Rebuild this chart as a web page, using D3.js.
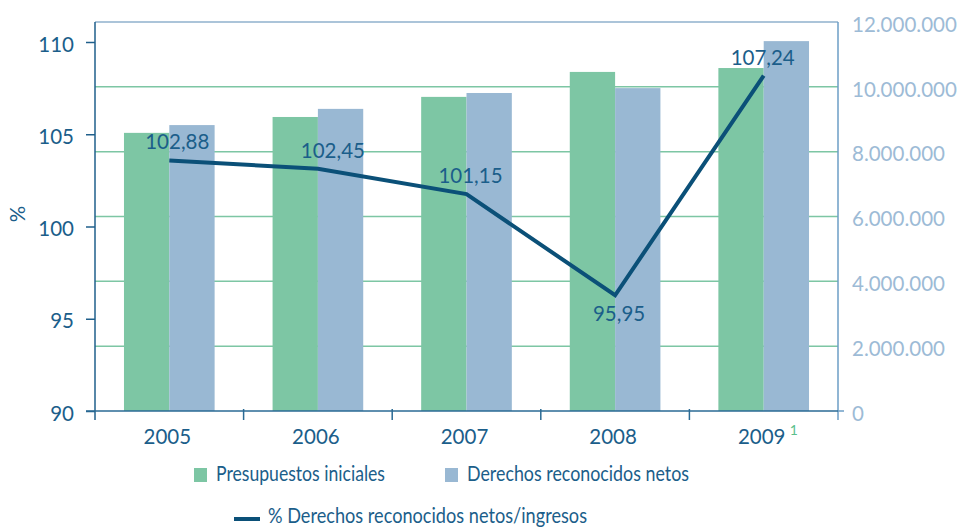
<!DOCTYPE html>
<html>
<head>
<meta charset="utf-8">
<script src="https://cdn.jsdelivr.net/npm/d3@7"></script>
<style>
  html, body { margin: 0; padding: 0; background: #fff; }
  svg { display: block; font-family: Lato, "Open Sans", sans-serif; }
</style>
</head>
<body>
<svg id="chart" width="960" height="527"></svg>
<script>
// ---- data ----
const years = ["2005", "2006", "2007", "2008", "2009"];
const presupuestos = [8580000, 9070000, 9690000, 10460000, 10580000];
const derechos = [8820000, 9320000, 9810000, 9960000, 11410000];
const porcentaje = [102.88, 102.45, 101.15, 95.95, 107.24];
const porcentajeLabels = ["102,88", "102,45", "101,15", "95,95", "107,24"];
const leftTicks = [90, 95, 100, 105, 110];
const rightTicks = [0, 2000000, 4000000, 6000000, 8000000, 10000000, 12000000];
const seriesNames = ["Presupuestos iniciales", "Derechos reconocidos netos"];
const lineName = "% Derechos reconocidos netos/ingresos";

// ---- style ----
const cGreen = "#7dc6a4", cBlue = "#99b8d3", cLine = "#0b5078";
const cText = "#1b5e8a", cRight = "#9dbbd6", cAxis = "#1f5f8b", cRightAxis = "#6c9ec6";
const fs = 20.5;
const ff = "Lato";

const svg = d3.select("#chart");
const L = 95, R = 838, B = 411, T = 22;

const x = d3.scaleBand().domain(years).range([L, R]).paddingInner(0.39).paddingOuter(0.195);
const xs = d3.scaleBand().domain(seriesNames).range([0, x.bandwidth()]);
const yR = d3.scaleLinear().domain([0, 12000000]).range([B, T]);
const yAxisL = d3.scaleLinear().domain([90, 110]).range([B, 42]);
const yLine = d3.scaleLinear().domain([90, 110]).range([B, T]);

// gridlines
svg.append("g").selectAll("line")
  .data(rightTicks.filter(d => d > 0 && d < 12000000))
  .join("line")
  .attr("x1", L).attr("x2", R)
  .attr("y1", d => yR(d)).attr("y2", d => yR(d))
  .attr("stroke", cGreen).attr("stroke-width", 1.5);

// top border
svg.append("line").attr("x1", L).attr("x2", R).attr("y1", yR(12000000)).attr("y2", yR(12000000))
  .attr("stroke", "#8fb0cc").attr("stroke-width", 1.5);

// bars
const barData = [];
years.forEach((y, i) => {
  barData.push({ year: y, s: seriesNames[0], v: presupuestos[i], c: cGreen });
  barData.push({ year: y, s: seriesNames[1], v: derechos[i], c: cBlue });
});
svg.append("g").selectAll("rect").data(barData).join("rect")
  .attr("x", d => x(d.year) + xs(d.s))
  .attr("width", xs.bandwidth())
  .attr("y", d => yR(d.v))
  .attr("height", d => B - yR(d.v))
  .attr("fill", d => d.c);

// left axis
const gL = svg.append("g").attr("transform", `translate(${L},0)`)
  .call(d3.axisLeft(yAxisL).tickValues(leftTicks).tickSize(9).tickPadding(12).tickFormat(d3.format("d")));
gL.select(".domain").remove();
gL.selectAll(".tick line").attr("stroke", cAxis).attr("stroke-width", 1.5);
gL.selectAll(".tick text").attr("fill", cText).attr("font-size", fs).attr("font-family", ff).attr("dy", "0.45em");
svg.append("line").attr("x1", L).attr("x2", L).attr("y1", T).attr("y2", B + 9)
  .attr("stroke", cAxis).attr("stroke-width", 1.5);

// right axis
const gR = svg.append("g").attr("transform", `translate(${R},0)`)
  .call(d3.axisRight(yR).tickValues(rightTicks).tickSize(0).tickPadding(14)
    .tickFormat(d => d3.format(",")(d).replace(/,/g, ".")));
gR.select(".domain").remove();
gR.selectAll(".tick text").attr("fill", cRight).attr("font-size", fs).attr("font-family", ff).attr("dy", "0.45em");
svg.append("line").attr("x1", R).attr("x2", R).attr("y1", T).attr("y2", B + 9)
  .attr("stroke", cRightAxis).attr("stroke-width", 1.5);
svg.append("line").attr("x1", R).attr("x2", R + 6).attr("y1", B).attr("y2", B)
  .attr("stroke", cRightAxis).attr("stroke-width", 1.5);

// x axis
svg.append("line").attr("x1", L - 9).attr("x2", R).attr("y1", B).attr("y2", B)
  .attr("stroke", "#2a6a94").attr("stroke-width", 1.5);
const boundaries = years.map(y => x(y) - x.step() * x.paddingInner() / 2).slice(1);
svg.append("g").selectAll("line").data(boundaries).join("line")
  .attr("x1", d => d).attr("x2", d => d).attr("y1", B - 2).attr("y2", B + 9)
  .attr("stroke", "#2a6a94").attr("stroke-width", 1.5);
svg.append("g").selectAll("text").data(years).join("text")
  .attr("x", d => x(d) + x.bandwidth() / 2 - 2)
  .attr("y", 444)
  .attr("text-anchor", "middle")
  .attr("fill", cText).attr("font-size", fs)
  .text(d => d);
svg.append("text")
  .attr("x", x("2009") + x.bandwidth() / 2 + 26).attr("y", 435)
  .attr("font-size", 14).attr("fill", "#5bbf8c").text("1");

// % axis title
svg.append("text").attr("transform", "translate(25,214) rotate(-90)")
  .attr("text-anchor", "middle").attr("fill", cText).attr("font-size", fs).text("%");

// line
const cx = d => x(d) + x.bandwidth() / 2;
svg.append("path").datum(years.map((y, i) => [cx(y), yLine(porcentaje[i])]))
  .attr("d", d3.line())
  .attr("fill", "none").attr("stroke", cLine).attr("stroke-width", 4).attr("stroke-linejoin", "miter");

// line labels
const labelDx = [8, 15, 4, 4, -1];
svg.append("g").selectAll("text").data(years).join("text")
  .attr("x", (d, i) => cx(d) + labelDx[i])
  .attr("y", (d, i) => porcentaje[i] < 98 ? yLine(porcentaje[i]) + 26 : yLine(porcentaje[i]) - 11)
  .attr("text-anchor", "middle").attr("fill", cText).attr("font-size", fs)
  .text((d, i) => porcentajeLabels[i]);

// legend
const leg = svg.append("g");
leg.append("rect").attr("x", 194).attr("y", 468).attr("width", 13).attr("height", 14).attr("fill", cGreen);
leg.append("text").attr("x", 216).attr("y", 481).attr("fill", cText).attr("font-size", fs)
  .attr("textLength", 169).attr("lengthAdjust", "spacingAndGlyphs").text(seriesNames[0]);
leg.append("rect").attr("x", 445).attr("y", 468).attr("width", 13).attr("height", 14).attr("fill", cBlue);
leg.append("text").attr("x", 467).attr("y", 481).attr("fill", cText).attr("font-size", fs)
  .attr("textLength", 222).attr("lengthAdjust", "spacingAndGlyphs").text(seriesNames[1]);
leg.append("line").attr("x1", 234).attr("x2", 260).attr("y1", 519).attr("y2", 519)
  .attr("stroke", cLine).attr("stroke-width", 4);
leg.append("text").attr("x", 268).attr("y", 523).attr("fill", cText).attr("font-size", fs)
  .attr("textLength", 319).attr("lengthAdjust", "spacingAndGlyphs").text(lineName);
</script>
</body>
</html>
